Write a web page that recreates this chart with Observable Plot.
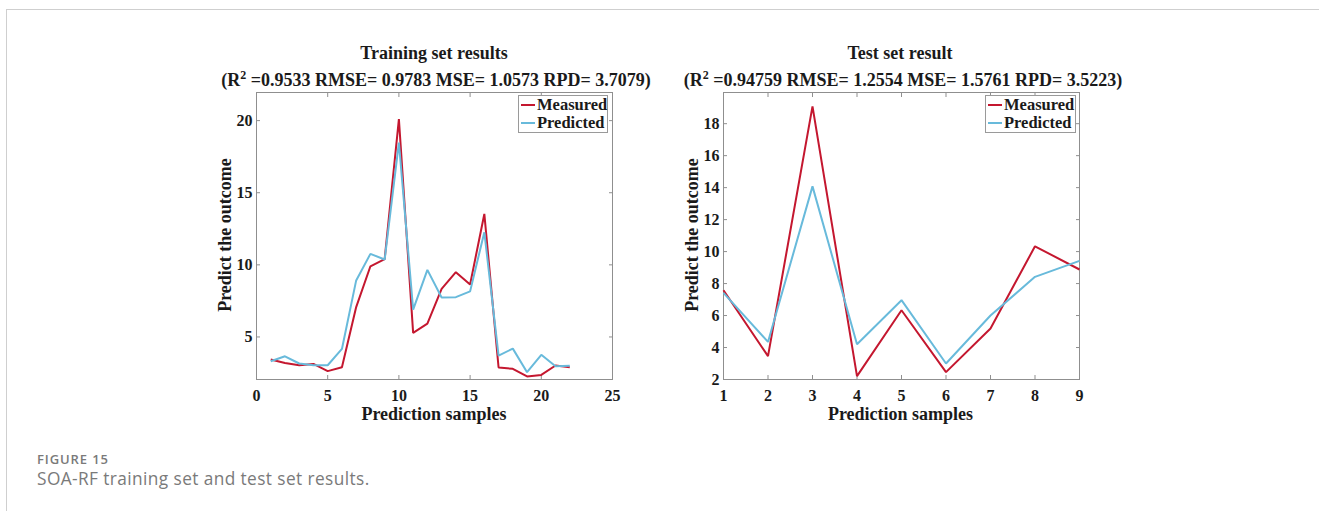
<!DOCTYPE html>
<html>
<head>
<meta charset="utf-8">
<script src="https://cdn.jsdelivr.net/npm/d3@7"></script>
<script src="https://cdn.jsdelivr.net/npm/@observablehq/plot@0.6"></script>
<style>
  html, body { margin: 0; padding: 0; background: #fff; }
  #root { position: relative; width: 1319px; height: 511px; overflow: hidden; background: #fff; }
  .abs { position: absolute; white-space: nowrap; }
  .serif { font-family: "Liberation Serif", "Times New Roman", serif; font-weight: bold; color: #1a1a1a; }
  .ctr { transform: translate(-50%, -50%); }
  .legend { position: absolute; border: 1px solid #9a9a9a; background: #fff; box-sizing: border-box; }
  .legend .row { position: absolute; left: 0; height: 18px; display: flex; align-items: center; }
  .legend .sw { width: 14px; height: 2px; margin-left: 2px; margin-right: 2px; }
  .legend .lab { font-family: "Liberation Serif", serif; font-weight: bold; font-size: 16.5px; color: #1a1a1a; line-height: 18px; }
</style>
</head>
<body>
<div id="root">
  <div class="abs" style="left:6px;top:9px;width:1313px;height:1px;background:#cfcfcf"></div>
  <div class="abs" style="left:6px;top:9px;width:1px;height:502px;background:#cfcfcf"></div>

  <div class="abs serif ctr" style="left:434px;top:53px;font-size:18px">Training set results</div>
  <div class="abs serif ctr" style="left:436px;top:79px;font-size:18px">(R<sup style="font-size:12px;vertical-align:7px">2</sup> =0.9533 RMSE= 0.9783 MSE= 1.0573 RPD= 3.7079)</div>
  <div class="abs serif ctr" style="left:900px;top:53px;font-size:18px">Test set result</div>
  <div class="abs serif ctr" style="left:903px;top:79px;font-size:18px">(R<sup style="font-size:12px;vertical-align:7px">2</sup> =0.94759 RMSE= 1.2554 MSE= 1.5761 RPD= 3.5223)</div>

  <div id="left" class="abs" style="left:200px;top:0px"></div>
  <div id="right" class="abs" style="left:666.5px;top:0px"></div>

  <div class="abs serif ctr" style="left:434px;top:414px;font-size:18px">Prediction samples</div>
  <div class="abs serif ctr" style="left:900.5px;top:414px;font-size:18px">Prediction samples</div>
  <div class="abs serif" style="left:225px;top:235px;font-size:18px;transform:translate(-50%,-50%) rotate(-90deg)">Predict the outcome</div>
  <div class="abs serif" style="left:692px;top:235px;font-size:18px;transform:translate(-50%,-50%) rotate(-90deg)">Predict the outcome</div>

  <div id="legL" class="legend" style="left:518px;top:95px;width:90px;height:38px"></div>
  <div id="legR" class="legend" style="left:985px;top:95px;width:91px;height:38px"></div>

  <div class="abs" style="left:37px;top:450px;font-family:'Open Sans',sans-serif;font-weight:600;font-size:13px;letter-spacing:0.9px;color:#7a7a7a">FIGURE 15</div>
  <div class="abs" style="left:37px;top:467px;font-family:'Open Sans',sans-serif;font-size:17.3px;letter-spacing:0.4px;color:#7a7a7a">SOA-RF training set and test set results.</div>
</div>
<script>
// ---- data ----
const seriesNames = ["Measured", "Predicted"];
const seriesColors = ["#c4172f", "#68badb"];

const trainSamples = [1, 2, 3, 4, 5, 6, 7, 8, 9, 10, 11, 12, 13, 14, 15, 16, 17, 18, 19, 20, 21, 22];
const trainMeasured = [3.43, 3.2, 3.04, 3.13, 2.63, 2.9, 7.07, 9.9, 10.4, 20.1, 5.28, 5.92, 8.34, 9.49, 8.64, 13.53, 2.88, 2.79, 2.26, 2.37, 3.02, 2.9];
const trainPredicted = [3.32, 3.66, 3.16, 3.04, 3.04, 4.17, 8.92, 10.76, 10.37, 18.48, 6.89, 9.65, 7.74, 7.76, 8.16, 12.26, 3.71, 4.19, 2.56, 3.76, 2.97, 3.0];
const trainXTicks = [0, 5, 10, 15, 20, 25];
const trainYTicks = [5, 10, 15, 20];

const testSamples = [1, 2, 3, 4, 5, 6, 7, 8, 9];
const testMeasured = [7.58, 3.46, 19.08, 2.21, 6.33, 2.46, 5.19, 10.33, 8.88];
const testPredicted = [7.42, 4.35, 14.08, 4.21, 6.96, 3.0, 6.0, 8.42, 9.42];
const testXTicks = [1, 2, 3, 4, 5, 6, 7, 8, 9];
const testYTicks = [2, 4, 6, 8, 10, 12, 14, 16, 18];

// ---- build tables ----
function table(samples, measured, predicted) {
  const rows = [];
  samples.forEach((s, i) => rows.push({sample: s, value: measured[i], series: seriesNames[0]}));
  samples.forEach((s, i) => rows.push({sample: s, value: predicted[i], series: seriesNames[1]}));
  return rows;
}

const axisStroke = "#8f8f8f";
function panel(rows, xDomain, yDomain, xTicks, yTicks) {
  return Plot.plot({
    width: 420,
    height: 440,
    marginLeft: 56,
    marginRight: 8,
    marginTop: 92,
    marginBottom: 61,
    x: {domain: xDomain},
    y: {domain: yDomain},
    color: {domain: seriesNames, range: seriesColors},
    style: {fontFamily: "'Liberation Serif', serif", fontWeight: "bold", fontSize: "16px", color: "#1a1a1a", background: "transparent", overflow: "visible"},
    marks: [
      Plot.frame({stroke: axisStroke}),
      Plot.axisX(xTicks, {anchor: "bottom", tickSize: -4, tickPadding: 14, stroke: axisStroke, fill: "#1a1a1a", label: null}),
      Plot.axisX(xTicks, {anchor: "top", tickSize: -4, stroke: axisStroke, fill: "none", label: null}),
      Plot.axisY(yTicks, {anchor: "left", tickSize: -4, tickPadding: 8, stroke: axisStroke, fill: "#1a1a1a", label: null}),
      Plot.axisY(yTicks, {anchor: "right", tickSize: -4, stroke: axisStroke, fill: "none", label: null}),
      Plot.line(rows, {x: "sample", y: "value", z: "series", stroke: "series", strokeWidth: 2, strokeLinejoin: "miter", strokeLinecap: "butt"})
    ]
  });
}

document.getElementById("left").append(
  panel(table(trainSamples, trainMeasured, trainPredicted), [0, 25], [2.05, 21.95], trainXTicks, trainYTicks)
);
document.getElementById("right").append(
  panel(table(testSamples, testMeasured, testPredicted), [1, 9], [2, 19.95], testXTicks, testYTicks)
);

function legend(id) {
  const el = document.getElementById(id);
  seriesNames.forEach((name, i) => {
    const row = document.createElement("div");
    row.className = "row";
    row.style.top = (i === 0 ? 0 : 18) + "px";
    const sw = document.createElement("div");
    sw.className = "sw";
    sw.style.background = seriesColors[i];
    const lab = document.createElement("div");
    lab.className = "lab";
    lab.textContent = name;
    row.append(sw, lab);
    el.append(row);
  });
}
legend("legL");
legend("legR");
</script>
</body>
</html>
